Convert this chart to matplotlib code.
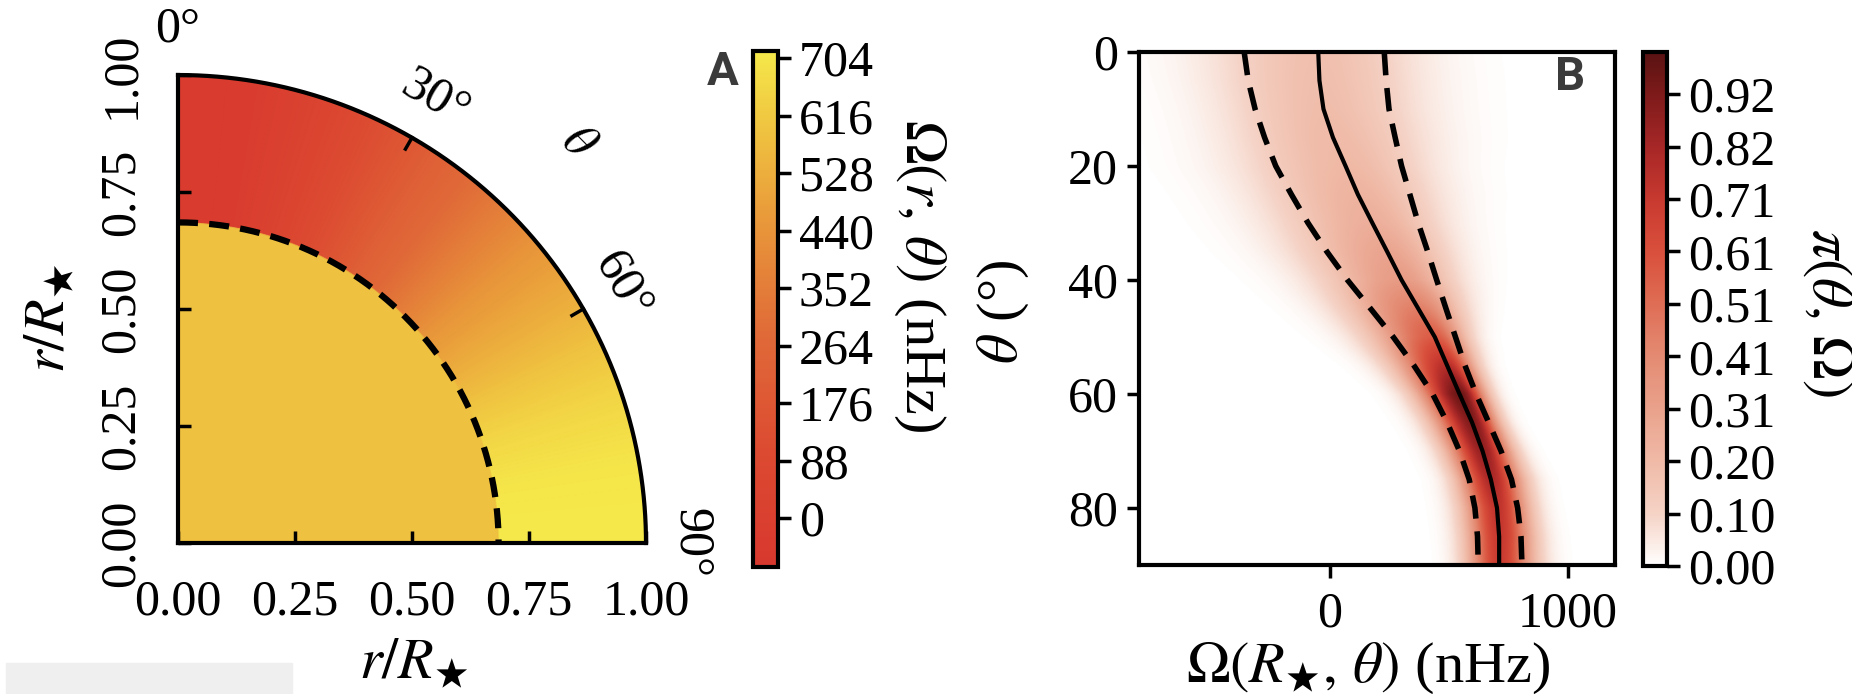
import numpy as np
import matplotlib
matplotlib.use("Agg")
import matplotlib.pyplot as plt
from matplotlib.colors import LinearSegmentedColormap
from matplotlib.patches import Rectangle

plt.rcParams['font.family'] = ['Liberation Serif', 'DejaVu Serif']
plt.rcParams['mathtext.fontset'] = 'stix'
plt.rcParams['font.size'] = 36

# surface rotation (nHz), theta in degrees from the pole
theta_deg = [0, 5, 10, 15, 20, 25, 30, 35, 40, 45, 50, 55, 60, 65, 70, 75, 80, 85, 90]
omega_median = [-50, -45, -28, 12, 65, 117, 178, 240, 301, 371, 441, 493, 545, 598, 642, 677, 703, 712, 712]
omega_lower = [-362, -345, -316, -276, -229, -163, -93, -14, 73, 170, 266, 353, 432, 493, 545, 586, 610, 621, 624]
omega_upper = [228, 236, 248, 274, 301, 336, 371, 411, 449, 488, 528, 568, 615, 668, 720, 764, 790, 804, 808]

# peak height of pi(theta, Omega) along each theta row
peak_theta = [0, 10, 20, 30, 40, 50, 60, 70, 80, 90]
peak_value = [0.18, 0.19, 0.21, 0.25, 0.33, 0.57, 0.96, 0.86, 0.74, 0.7]

# panel A: radiative core rotation and core radius
omega_core = 590.0
r_core = 0.685

omega_range = (-75, 715)
omega_ticks = [0, 88, 176, 264, 352, 440, 528, 616, 704]
omega_colors = ['#d8382e', '#dc4a31', '#e06a38', '#e99a3a', '#f0c841', '#f5e84a']
omega_color_pos = [0.0, 0.22, 0.45, 0.68, 0.87, 1.0]

pi_ticks = [0.0, 0.102, 0.204, 0.306, 0.408, 0.510, 0.612, 0.714, 0.816, 0.918]
pi_ticklabels = ['0.00', '0.10', '0.20', '0.31', '0.41', '0.51', '0.61', '0.71', '0.82', '0.92']
pi_colors = ['#ffffff', '#fcf1ec', '#f5d3c6', '#f0bba8', '#e9a08a', '#e48a72',
             '#df6d55', '#d9503c', '#c93a30', '#a52626', '#7d1a1a', '#5a1212']
pi_color_pos = [0.0, 0.03, 0.1, 0.2, 0.31, 0.41, 0.51, 0.61, 0.71, 0.82, 0.92, 1.0]

r_ticks = [0.0, 0.25, 0.5, 0.75, 1.0]
r_ticklabels = ['0.00', '0.25', '0.50', '0.75', '1.00']
angle_labels = [(0, '0°'), (30, '30°'), (60, '60°'), (90, '90°')]

W, H = 1852, 694
LABEL_SIZE = 42
fig = plt.figure(figsize=(W / 100, H / 100), dpi=100)

def px_axes(x0, y0, x1, y1):
    return fig.add_axes([x0 / W, 1 - y1 / H, (x1 - x0) / W, (y1 - y0) / H])

axA = px_axes(178, 75, 646, 543)
caxA = px_axes(753, 51, 778, 567)
axB = px_axes(1139, 52, 1615, 565)
caxB = px_axes(1643, 52, 1667, 566)

# ---- panel A: meridional quarter of the star
cmapA = LinearSegmentedColormap.from_list('omega', list(zip(omega_color_pos, omega_colors)))
r = np.linspace(0, 1, 400)
th = np.linspace(0, 90, 300)
R, TH = np.meshgrid(r, th)
X = R * np.sin(np.radians(TH))
Y = R * np.cos(np.radians(TH))
envelope = np.interp(TH, theta_deg, omega_median)
Z = np.where(R < r_core, omega_core, envelope)
meshA = axA.pcolormesh(X, Y, Z, cmap=cmapA, vmin=omega_range[0], vmax=omega_range[1],
                       shading='gouraud', rasterized=True)

t = np.radians(np.linspace(0, 90, 300))
axA.plot(np.sin(t), np.cos(t), color='k', lw=3, clip_on=False, zorder=5)
axA.plot(r_core * np.sin(t), r_core * np.cos(t), color='k', lw=4.5,
         dashes=(3.2, 1.8), dash_capstyle='butt', zorder=5)
for ang in (30, 60):
    a = np.radians(ang)
    axA.plot([0.972 * np.sin(a), np.sin(a)], [0.972 * np.cos(a), np.cos(a)],
             color='k', lw=2.5, zorder=5)
for ang, txt in angle_labels:
    a = np.radians(ang)
    axA.text(1.097 * np.sin(a), 1.097 * np.cos(a), txt, rotation=-ang,
             ha='center', va='center', rotation_mode='anchor', clip_on=False)
axA.text(1.21 * np.sin(np.radians(45)), 1.21 * np.cos(np.radians(45)), r'$\theta$',
         rotation=-45, ha='center', va='center', rotation_mode='anchor')

axA.set_xlim(0, 1)
axA.set_ylim(0, 1)
axA.spines['top'].set_visible(False)
axA.spines['right'].set_visible(False)
for s in ('left', 'bottom'):
    axA.spines[s].set_linewidth(3)
axA.set_xticks(r_ticks)
axA.set_xticklabels(r_ticklabels)
axA.set_yticks(r_ticks)
axA.set_yticklabels(r_ticklabels, rotation=90, va='center')
axA.tick_params(direction='in', length=9, width=2.5)
axA.tick_params(axis='x', pad=26)
axA.tick_params(axis='y', pad=24)

cbA = fig.colorbar(meshA, cax=caxA, ticks=omega_ticks)
cbA.outline.set_linewidth(3)
caxA.tick_params(direction='out', length=9, width=2.5, pad=6)

# ---- panel B: posterior density of the surface rotation profile
om = np.linspace(-805, 1200, 600)
tg = np.linspace(0, 90, 300)
OM, TG = np.meshgrid(om, tg)
mu = np.interp(TG, theta_deg, omega_median)
sig_lo = mu - np.interp(TG, theta_deg, omega_lower)
sig_hi = np.interp(TG, theta_deg, omega_upper) - mu
sig = np.where(OM < mu, sig_lo, sig_hi)
dens = np.interp(TG, peak_theta, peak_value) * np.exp(-0.5 * ((OM - mu) / sig) ** 2)

cmapB = LinearSegmentedColormap.from_list('pi', list(zip(pi_color_pos, pi_colors)))
imB = axB.imshow(dens, extent=[om[0], om[-1], 90, 0], aspect='auto', cmap=cmapB,
                 vmin=0, vmax=1.0, interpolation='bilinear')
axB.plot(omega_median, theta_deg, color='k', lw=3)
axB.plot(omega_lower, theta_deg, color='k', lw=4, dashes=(4.2, 2.3), dash_capstyle='butt')
axB.plot(omega_upper, theta_deg, color='k', lw=4, dashes=(4.2, 2.3), dash_capstyle='butt')
axB.set_xlim(om[0], om[-1])
axB.set_ylim(90, 0)
axB.set_xticks([0, 1000])
axB.set_yticks([0, 20, 40, 60, 80])
for s in axB.spines.values():
    s.set_linewidth(3)
axB.tick_params(direction='out', length=9, width=2.5, pad=6)
axB.tick_params(axis='x', pad=10)

cbB = fig.colorbar(imB, cax=caxB, ticks=pi_ticks)
cbB.set_ticklabels(pi_ticklabels)
cbB.outline.set_linewidth(3)
caxB.tick_params(direction='out', length=9, width=2.5, pad=6)

# ---- labels
lab = dict(ha='center', va='center', fontsize=LABEL_SIZE)
fig.text(414 / W, 1 - 664 / H, r'$r/R_{\bigstar}$', **lab)
fig.text(50 / W, 1 - 318 / H, r'$r/R_{\bigstar}$', rotation=90, **lab)
fig.text(920 / W, 1 - 276 / H, r'$\Omega(r,\, \theta)$ (nHz)', rotation=270, **lab)
fig.text(1368 / W, 1 - 668 / H, r'$\Omega(R_{\bigstar},\, \theta)$ (nHz)', **lab)
fig.text(1003 / W, 1 - 312 / H, r'$\theta$ (°)', rotation=90, **lab)
fig.text(1828 / W, 1 - 312 / H, r'$\pi(\theta,\, \Omega)$', rotation=270, **lab)

letter_font = dict(fontsize=34, fontweight='bold', color='#3b3b3b',
                   family=['Liberation Sans Narrow', 'Roboto', 'DejaVu Sans'], ha='center', va='center')
fig.text(723 / W, 1 - 72 / H, 'A', **letter_font)
fig.text(1570 / W, 1 - 77 / H, 'B', **letter_font)

fig.add_artist(Rectangle((6 / W, 0), 286 / W, 31 / H, transform=fig.transFigure,
                         color='#efefef', zorder=0))

fig.savefig('out.png', dpi=100)
